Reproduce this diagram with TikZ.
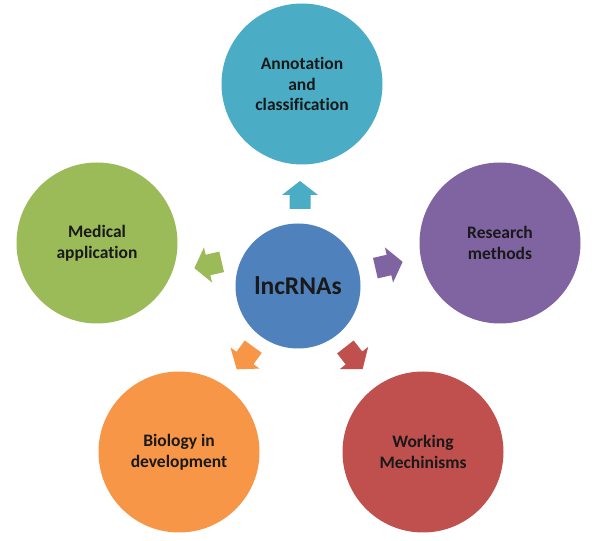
\documentclass[tikz,border=0pt]{standalone}
\usepackage{fontspec}
\setmainfont{Carlito}[RawFeature={-liga;-calt;-dlig}]
\definecolor{cAqua}{HTML}{4BACC6}
\definecolor{cBlue}{HTML}{4F81BD}
\definecolor{cPurple}{HTML}{8064A2}
\definecolor{cRed}{HTML}{C0504D}
\definecolor{cOrange}{HTML}{F79646}
\definecolor{cGreen}{HTML}{9BBB59}
\tikzset{
  outer/.style={circle, fill=#1, draw=none, minimum size=161pt, inner sep=0pt, align=center,
    font=\fontsize{17.5}{20.5}\selectfont\bfseries, text=black!90},
  hub/.style={circle, fill=cBlue, draw=none, minimum size=125pt, inner sep=0pt,
    font=\fontsize{25.5}{30}\selectfont\bfseries, text=black!90},
  blockarrow/.pic={\fill[#1] (-14,-10.5) -- (0,-10.5) -- (0,-18) -- (14,0) -- (0,18) -- (0,10.5) -- (-14,10.5) -- cycle;}
}
\begin{document}
\begin{tikzpicture}[x=1pt,y=1pt]
\useasboundingbox (0,0) rectangle (600,541);
\fill[white] (0,0) rectangle (600,541);
\node[hub] (hub) at (298,255) {lncRNAs};
\node[outer=cAqua] (ann) at (302,457) {Annotation\\and\\classification};
\node[outer=cPurple] (res) at (500,298) {Research\\methods};
\node[outer=cRed] (work) at (423,89) {Working\\Mechinisms};
\node[outer=cOrange] (bio) at (179,89) {Biology in\\development};
\node[outer=cGreen] (med) at (97,298) {Medical\\application};
\pic[rotate=90] (a1) at (300,346) {blockarrow=cAqua};
\pic[rotate=13] (a2) at (389,276) {blockarrow=cPurple};
\pic[rotate=-52] (a3) at (354,183) {blockarrow=cRed};
\pic[rotate=-126] (a4) at (245,183) {blockarrow=cOrange};
\pic[rotate=193] (a5) at (208,276) {blockarrow=cGreen};
\end{tikzpicture}
\end{document}
